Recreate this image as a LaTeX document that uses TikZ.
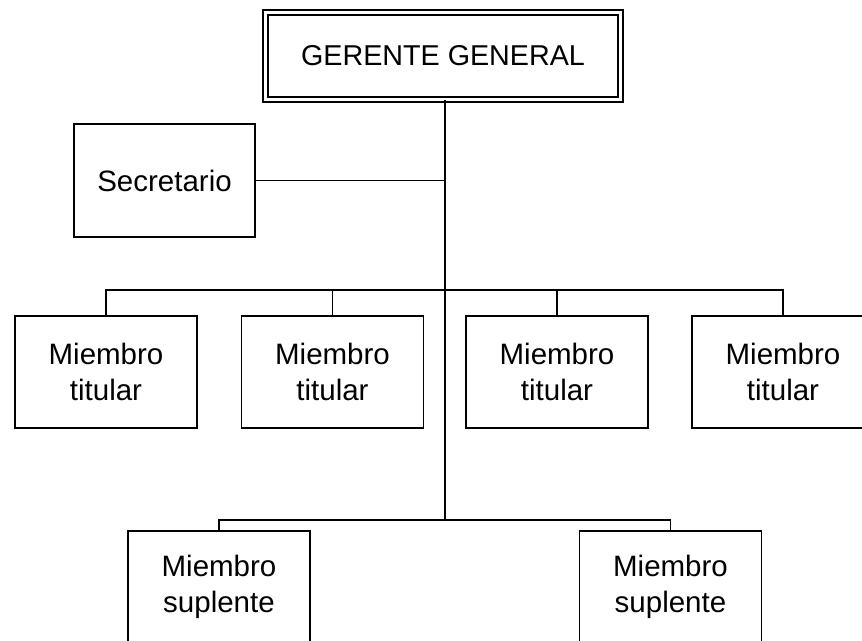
\documentclass[tikz,border=0pt]{standalone}
\usepackage{fontspec}
\setmainfont{Liberation Sans}
\begin{document}
\begin{tikzpicture}[x=1pt,y=-1pt,
  box/.style={draw, line width=1.4pt, rectangle, align=center, inner sep=0pt,
    minimum width=182pt, minimum height=112pt,
    font=\fontsize{29.5}{36}\selectfont},
  topbox/.style={draw, line width=1.4pt, double, double distance=3.5pt, rectangle, align=center, inner sep=0pt,
    minimum width=355pt, minimum height=87pt,
    font=\fontsize{28.7}{36}\selectfont},
  conn/.style={draw, line width=1.5pt},
  trunk/.style={draw, line width=2pt}]
\clip (0,0) rectangle (862,640);
\fill[white] (0,0) rectangle (862,640);
\node[topbox] (gg) at (443,56) {GERENTE GENERAL};
\node[box, minimum width=181pt, minimum height=113pt] (sec) at (164.5,180.5) {Secretario};
\node[box] (t1) at (106,372) {Miembro\\titular};
\node[box] (t2) at (332.5,372) {Miembro\\titular};
\node[box] (t3) at (557,372) {Miembro\\titular};
\node[box] (t4) at (783,372) {Miembro\\titular};
\node[box] (s1) at (219,587) {Miembro\\suplente};
\node[box] (s2) at (670.5,587) {Miembro\\suplente};
\coordinate (jt) at (445,290);
\coordinate (js) at (445,520);
\draw[trunk] (gg.south -| js) -- (js);
\draw[conn] (sec.east) -- (sec.east -| js);
\draw[conn] (t1.north) -- (t1.north |- jt) -- (t4.north |- jt) -- (t4.north);
\draw[conn] (t2.north) -- (t2.north |- jt);
\draw[conn] (t3.north) -- (t3.north |- jt);
\draw[conn] (s1.north) |- (js) -| (s2.north);
\end{tikzpicture}
\end{document}
